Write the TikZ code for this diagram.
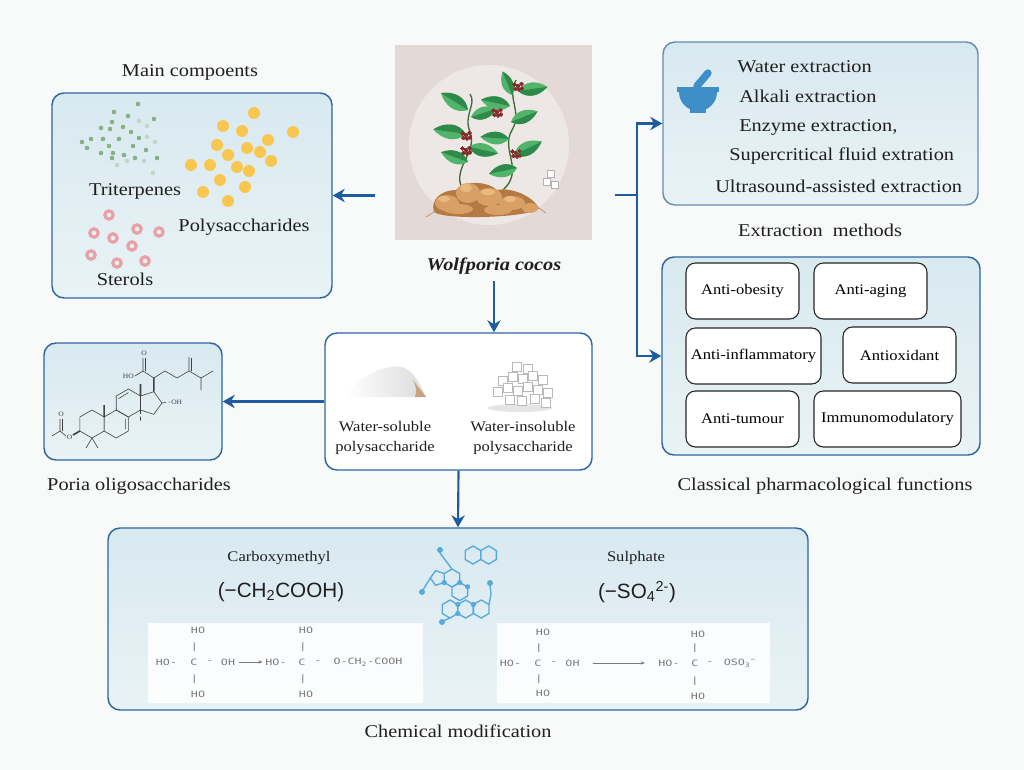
\documentclass[tikz,border=0pt]{standalone}
\usepackage{fontspec}
\setmainfont{Liberation Serif}[FakeStretch=1.13]
\newfontfamily\formulafont{Liberation Sans}
\newfontfamily\chemfont{DejaVu Sans Mono}[FakeStretch=1.35]
\usetikzlibrary{arrows.meta}
\definecolor{frameblue}{HTML}{2D67A2}
\definecolor{arrowblue}{HTML}{1E5B9F}
\definecolor{panelA}{HTML}{D8E9F0}
\definecolor{panelB}{HTML}{E9F3F5}
\definecolor{bgwhite}{HTML}{F8F9F9}
\definecolor{plantbg}{HTML}{E3DAD8}
\definecolor{plantring}{HTML}{EDE8E6}
\definecolor{leaflight}{HTML}{52B46A}
\definecolor{leafdark}{HTML}{2E8A4A}
\definecolor{stemgreen}{HTML}{3F6B34}
\definecolor{tuber}{HTML}{D9A065}
\definecolor{tuberlight}{HTML}{E8B87E}
\definecolor{tuberdark}{HTML}{B57A44}
\definecolor{berry}{HTML}{8A2B2B}
\definecolor{terpgreen}{HTML}{86B283}
\definecolor{terplight}{HTML}{C3D7C6}
\definecolor{sugar}{HTML}{F9C74F}
\definecolor{sterol}{HTML}{E8A1A7}
\definecolor{iconblue}{HTML}{3E8FC8}
\definecolor{molblue}{HTML}{55AADD}
\definecolor{chemgray}{HTML}{7A7A7A}
\definecolor{powderbrown}{HTML}{C9A27E}
\newcommand{\hexring}[4][]{\draw[#1] (#2,#3) +(30:#4) -- +(90:#4) -- +(150:#4) -- +(210:#4) -- +(270:#4) -- +(330:#4) -- cycle;}
\newcommand{\plantleaf}[4]{%
  \fill[leaflight,shift={(#1,#2)},rotate=#3,scale=#4] (0,0) .. controls (6,7) and (15,6) .. (22,0) .. controls (15,-6) and (6,-7) .. (0,0);
  \fill[leafdark,shift={(#1,#2)},rotate=#3,scale=#4] (0,0) .. controls (6,7) and (15,6) .. (22,0) -- cycle;}
\begin{document}
\begin{tikzpicture}[x=0.75pt,y=-0.75pt,
    group box/.style={draw=frameblue,line width=1.1pt,rounded corners=9pt,top color=panelA,bottom color=panelB,inner sep=0pt},
    white box/.style={draw=frameblue,line width=1.1pt,rounded corners=9pt,fill=white,inner sep=0pt},
    effect box/.style={draw=black!85,line width=0.8pt,rounded corners=7pt,fill=white,minimum height=42pt,inner sep=0pt,font=\fontsize{11}{13}\selectfont},
    title text/.style={font=\fontsize{13.5}{16}\selectfont,text=black!88,inner sep=0pt},
    list entry/.style={font=\fontsize{13.5}{16}\selectfont,text=black!88,inner sep=0pt,anchor=west},
    small text/.style={font=\fontsize{11}{15}\selectfont,text=black!88,inner sep=0pt,align=center},
    group formula/.style={font=\formulafont\fontsize{15.5}{18}\selectfont,text=black!88,inner sep=0pt},
    chem/.style={font=\chemfont\fontsize{6.5}{7}\selectfont,text=chemgray,inner sep=0pt},
    atom/.style={font=\fontsize{5}{6}\selectfont,text=black!75,inner sep=0pt},
    bond/.style={draw=black!75,line width=0.45pt},
    mol/.style={draw=molblue,line width=1pt},
    flow/.style={-{Stealth[length=9pt,width=10pt]},draw=arrowblue,line width=1.6pt},
    branch line/.style={draw=arrowblue,line width=1.6pt}]
\path[use as bounding box,fill=bgwhite] (0,0) rectangle (1024,770);

% main components
\node[group box,minimum width=210pt,minimum height=153.75pt] (comp) at (192,195.5) {};
\node[title text] (compcap) at (190,72) {Main compoents};
\foreach \dx/\dy in {138/104,114/112,128/116,154/119,112/122,101/128,110/129,123/127,131/132,82/142,91/139,103/139,119/139,139/138,87/148,109/146,133/146,146/150,101/153,113/153,124/155,112/158,135/158,157/158}
  \fill[terpgreen] (\dx,\dy) circle (2.3);
\foreach \dx/\dy in {139/121,147/126,147/137,155/142,117/165,127/161,144/161,153/173}
  \fill[terplight] (\dx,\dy) circle (2.3);
\foreach \dx/\dy in {254/113,223/126,242/131,293/132,268/140,217/145,247/148,228/155,260/152,271/161,191/165,210/165,237/167,249/171,220/180,245/187,203/192,228/201}
  \fill[sugar] (\dx,\dy) circle (6);
\foreach \dx/\dy in {109/215,94/233,113/238,137/229,159/232,132/246,91/255,117/263,145/261}
  \draw[sterol,line width=2.4pt] (\dx,\dy) circle (4.2);
\node[title text] (triter) at (135,191) {Triterpenes};
\node[title text] (polys) at (244,227) {Polysaccharides};
\node[title text] (sterols) at (125,279) {Sterols};

% Wolfporia cocos picture
\node[fill=plantbg,minimum width=147.75pt,minimum height=146.25pt,inner sep=0pt] (plant) at (493.5,142.5) {};
\fill[plantring] (489,145) circle (80);
\draw[stemgreen,line width=1pt] (462,188) .. controls (452,168) and (478,152) .. (470,132) .. controls (463,115) and (477,104) .. (470,94);
\draw[stemgreen,line width=1pt] (503,190) .. controls (525,170) and (500,150) .. (512,130) .. controls (523,112) and (506,98) .. (516,80);
\foreach \bx/\by/\ang/\sc in {468/110/148/1.45,471/117/18/1.25,466/134/172/1.5,469/147/-12/1.35,468/162/160/1.3,512/95/112/1.15,518/91/8/1.35,510/106/168/1.35,511/122/22/1.3,509/139/176/1.3,514/155/26/1.4,517/168/192/1.3}
  \plantleaf{\bx}{\by}{\ang}{\sc}
\foreach \cx/\cy in {518/86,497/112,466/135,466/150,516/153}
  \foreach \ox/\oy in {0/0,3.5/-2,-3.5/-1.5,1/3.5,-2.5/3,4/2.5}
    \fill[berry] (\cx+\ox,\cy+\oy) circle (1.9);
\fill[tuberdark] (434,212) .. controls (430,200) and (441,190) .. (456,190) .. controls (466,180) and (487,181) .. (497,190) .. controls (512,187) and (532,196) .. (539,208) .. controls (536,217) and (446,221) .. cycle;
\foreach \ux/\uy/\ur/\vr in {447/203/12/8,468/193/12/10,489/197/13/9,512/203/13/7,530/208/8/5,458/209/15/5,498/210/14/5}
  \fill[tuber] (\ux,\uy) ellipse [x radius=\ur,y radius=\vr];
\foreach \ux/\uy/\ur/\vr in {444/199/6/3,466/188/6/4,488/192/7/3,510/199/6/3}
  \fill[tuberlight] (\ux,\uy) ellipse [x radius=\ur,y radius=\vr];
\draw[tuberdark,line width=0.4pt] (434,212) -- (426,217) (539,208) -- (546,213);
\foreach \sx/\sy in {543/178,551/181,547/170}
  \filldraw[fill=white,draw=gray!60,line width=0.3pt] (\sx,\sy) rectangle +(7,7);
\node[title text,font=\fontsize{13.5}{16}\selectfont\bfseries\itshape] (wcname) at (494,266) {Wolfporia cocos};

% extraction methods
\node[group box,draw=frameblue!75,minimum width=236.25pt,minimum height=122.25pt] (extract) at (820.5,123.5) {};
\fill[iconblue] (677,87) rectangle (719,92);
\fill[iconblue] (679,92) arc[start angle=180,end angle=0,radius=19] -- cycle;
\fill[iconblue] (690,107) rectangle (706,113);
\draw[iconblue,line width=5.5pt,line cap=round] (697,86) -- (708,73);
\node[list entry] (water) at (737,67) {Water extraction};
\node[list entry] (alkali) at (739,96) {Alkali extraction};
\node[list entry] (enzyme) at (739,127) {Enzyme extraction,};
\node[list entry] (supercrit) at (729,156) {Supercritical fluid extration};
\node[list entry] (ultra) at (715,186) {Ultrasound-assisted extraction};
\node[title text] (extractcap) at (820,230) {Extraction\ \ methods};

% pharmacological functions
\node[group box,minimum width=238.5pt,minimum height=148.5pt] (pharm) at (821,356) {};
\node[effect box,minimum width=84.75pt] (obesity) at (742.5,291) {Anti-obesity};
\node[effect box,minimum width=84.75pt] (aging) at (870.5,291) {Anti-aging};
\node[effect box,minimum width=101.25pt] (inflam) at (753.5,356) {Anti-inflammatory};
\node[effect box,minimum width=84.75pt] (antiox) at (899.5,355) {Antioxidant};
\node[effect box,minimum width=84.75pt] (tumour) at (742.5,419) {Anti-tumour};
\node[effect box,minimum width=110.25pt] (immuno) at (887.5,419) {Immunomodulatory};
\node[title text] (pharmcap) at (825,486) {Classical pharmacological functions};

% fractions
\node[white box,minimum width=200.25pt,minimum height=102.75pt] (frac) at (458.5,401.5) {};
\shade[left color=white,right color=black!14] (345,397) .. controls (360,375) and (385,364) .. (402,367) .. controls (413,370) and (420,384) .. (426,397) -- cycle;
\fill[powderbrown] (413,380) .. controls (419,388) and (423,393) .. (426,397) -- (415,397) .. controls (417,391) and (416,386) .. cycle;
\fill[gray!20] (520,408) ellipse [x radius=32,y radius=4];
\foreach \sx/\sy in {512/362,523/364,498/376,508/372,518/374,528/371,538/375,493/387,503/383,513/386,523/382,533/385,543/388,505/395,517/396,530/394,541/398}
  \filldraw[fill=white,draw=gray!55,line width=0.4pt] (\sx,\sy) rectangle +(9,9);
\node[small text] (wsol) at (385,438) {Water-soluble\\polysaccharide};
\node[small text] (winsol) at (523,438) {Water-insoluble\\polysaccharide};

% poria oligosaccharides
\node[group box,minimum width=133.5pt,minimum height=87.75pt] (poria) at (133,401.5) {};
\hexring[bond]{92}{424}{14}
\hexring[bond]{116.2}{424}{14}
\hexring[bond]{128.4}{403}{14}
\draw[bond] (140.5,396) -- (153.8,391.7) -- (162,403) -- (153.8,414.3) -- (140.5,410);
\draw[bond] (125.4,419) -- (125.4,429) (118.6,398.6) -- (128.4,392.6);
\draw[bond,line width=1.2pt] (104.1,417) -- (104.1,405) (140.5,396) -- (140.5,384) (153.8,391.7) -- (153.8,378) (79.9,431) -- (73,435);
\draw[bond,densely dashed] (140.5,410) -- (140.5,421) (162,403) -- (170,402);
\draw[bond] (153.8,378) -- (143,371) -- (135,376) (143,371) -- (143,358) (145.5,371) -- (145.5,358);
\draw[bond] (153.8,378) -- (165,371) -- (177,378) -- (189,371) -- (201,378) -- (213,371) (201,378) -- (201,390) (189,371) -- (189,357) (191.5,371) -- (191.5,358);
\draw[bond] (92,438) -- (86,448) (92,438) -- (98,448);
\draw[bond] (66,436) -- (60,431) -- (52,436) (60,431) -- (60,419) (62.5,431) -- (62.5,419);
\node[atom,anchor=east] (hoacid) at (134,376) {HO};
\node[atom] (oxo) at (144,353) {O};
\node[atom,anchor=west] (ohring) at (171,402) {OH};
\node[atom] (ester) at (69.5,437) {O};
\node[atom] (acyl) at (61,414) {O};
\node[title text] (poriacap) at (139,486) {Poria oligosaccharides};

% chemical modification
\node[group box,minimum width=525pt,minimum height=136.5pt] (modif) at (458,619) {};
\node[small text] (carboxy) at (279,558) {Carboxymethyl};
\node[group formula] (carboxyf) at (281,592) {(−CH\textsubscript{2}COOH)};
\node[small text] (sulph) at (636,558) {Sulphate};
\node[group formula] (sulphf) at (637,592) {(−SO\textsubscript{4}\textsuperscript{2-})};
\hexring[mol]{473}{555}{9}
\hexring[mol]{488.6}{555}{9}
\hexring[mol]{452}{578}{9}
\hexring[mol]{459.8}{591.5}{9}
\draw[mol] (444.2,573.5) -- (435.6,570.7) -- (430.3,578) -- (435.6,585.3) -- (444.2,582.5);
\draw[mol] (452,569) -- (446,561) -- (440,553) (430.3,578) -- (423,590);
\hexring[mol]{450}{609}{9}
\hexring[mol]{465.6}{609}{9}
\hexring[mol]{481.2}{609}{9}
\draw[mol] (489,604.5) -- (491,594) -- (490,585) (450,618) -- (443,621);
\foreach \mx/\my in {440/550,422/592,490/583,442/622}
  \fill[molblue] (\mx,\my) circle (3);
\foreach \mx/\my in {444.2/582.5,459.8/582.5,457.8/604.5,473.4/604.5,457.8/613.5,467.6/586.8}
  \fill[molblue] (\mx,\my) circle (2.6);
\fill[white,opacity=0.85] (148,623) rectangle (423,703);
\fill[white,opacity=0.85] (497,623) rectangle (770,703);
\foreach \tx/\ty/\tt [count=\i] in {166.5/662/HO-,194/662/C,210/662/-,302/662/C,318/662/-,368/662/{O-CH\textsubscript{2}-COOH},198/630/HO,194.5/647/|,194.5/679/|,198/694/HO,306/630/HO,303/647/|,303/679/|,306/694/HO}
  \node[chem] (ca\i) at (\tx,\ty) {\tt};
\node[chem] (ohA) at (228,662) {OH};
\node[chem] (hoA) at (276,662) {HO-};
\draw[chemgray,line width=0.5pt,-{Stealth[length=3pt,width=2.5pt]}] ([xshift=3pt]ohA.east) -- ([xshift=-2pt]hoA.west);
\foreach \tx/\ty/\tt [count=\i] in {510.5/663/HO-,538/663/C,554/663/-,695/663/C,710/663/-,740/663/{OSO\textsubscript{3}\textsuperscript{−}},543/632/HO,539/648/|,539/679/|,543/693/HO,698/634/HO,695/648/|,695/681/|,698/696/HO}
  \node[chem] (cb\i) at (\tx,\ty) {\tt};
\node[chem] (ohB) at (572.5,663) {OH};
\node[chem] (hoB) at (669,663) {HO-};
\draw[chemgray,line width=0.5pt,-{Stealth[length=3pt,width=2.5pt]}] ([xshift=10pt]ohB.east) -- ([xshift=-10pt]hoB.west);
\node[title text] (modifcap) at (458,731) {Chemical modification};

% connectors
\coordinate (plantout) at (375,195.5);
\draw[flow] (plantout) -- (comp.east);
\coordinate (junc) at (637,195);
\draw[branch line] ([xshift=17pt]plant.east |- junc) -- (junc);
\draw[flow] (junc) |- (extract.west);
\draw[flow] (junc) |- (pharm.west);
\draw[flow] ([yshift=-5pt]wcname.south) -- (wcname.south |- frac.north);
\draw[flow] (frac.west) -- (poria.east);
\draw[flow] (frac.south) -- (modif.north);
\end{tikzpicture}
\end{document}
